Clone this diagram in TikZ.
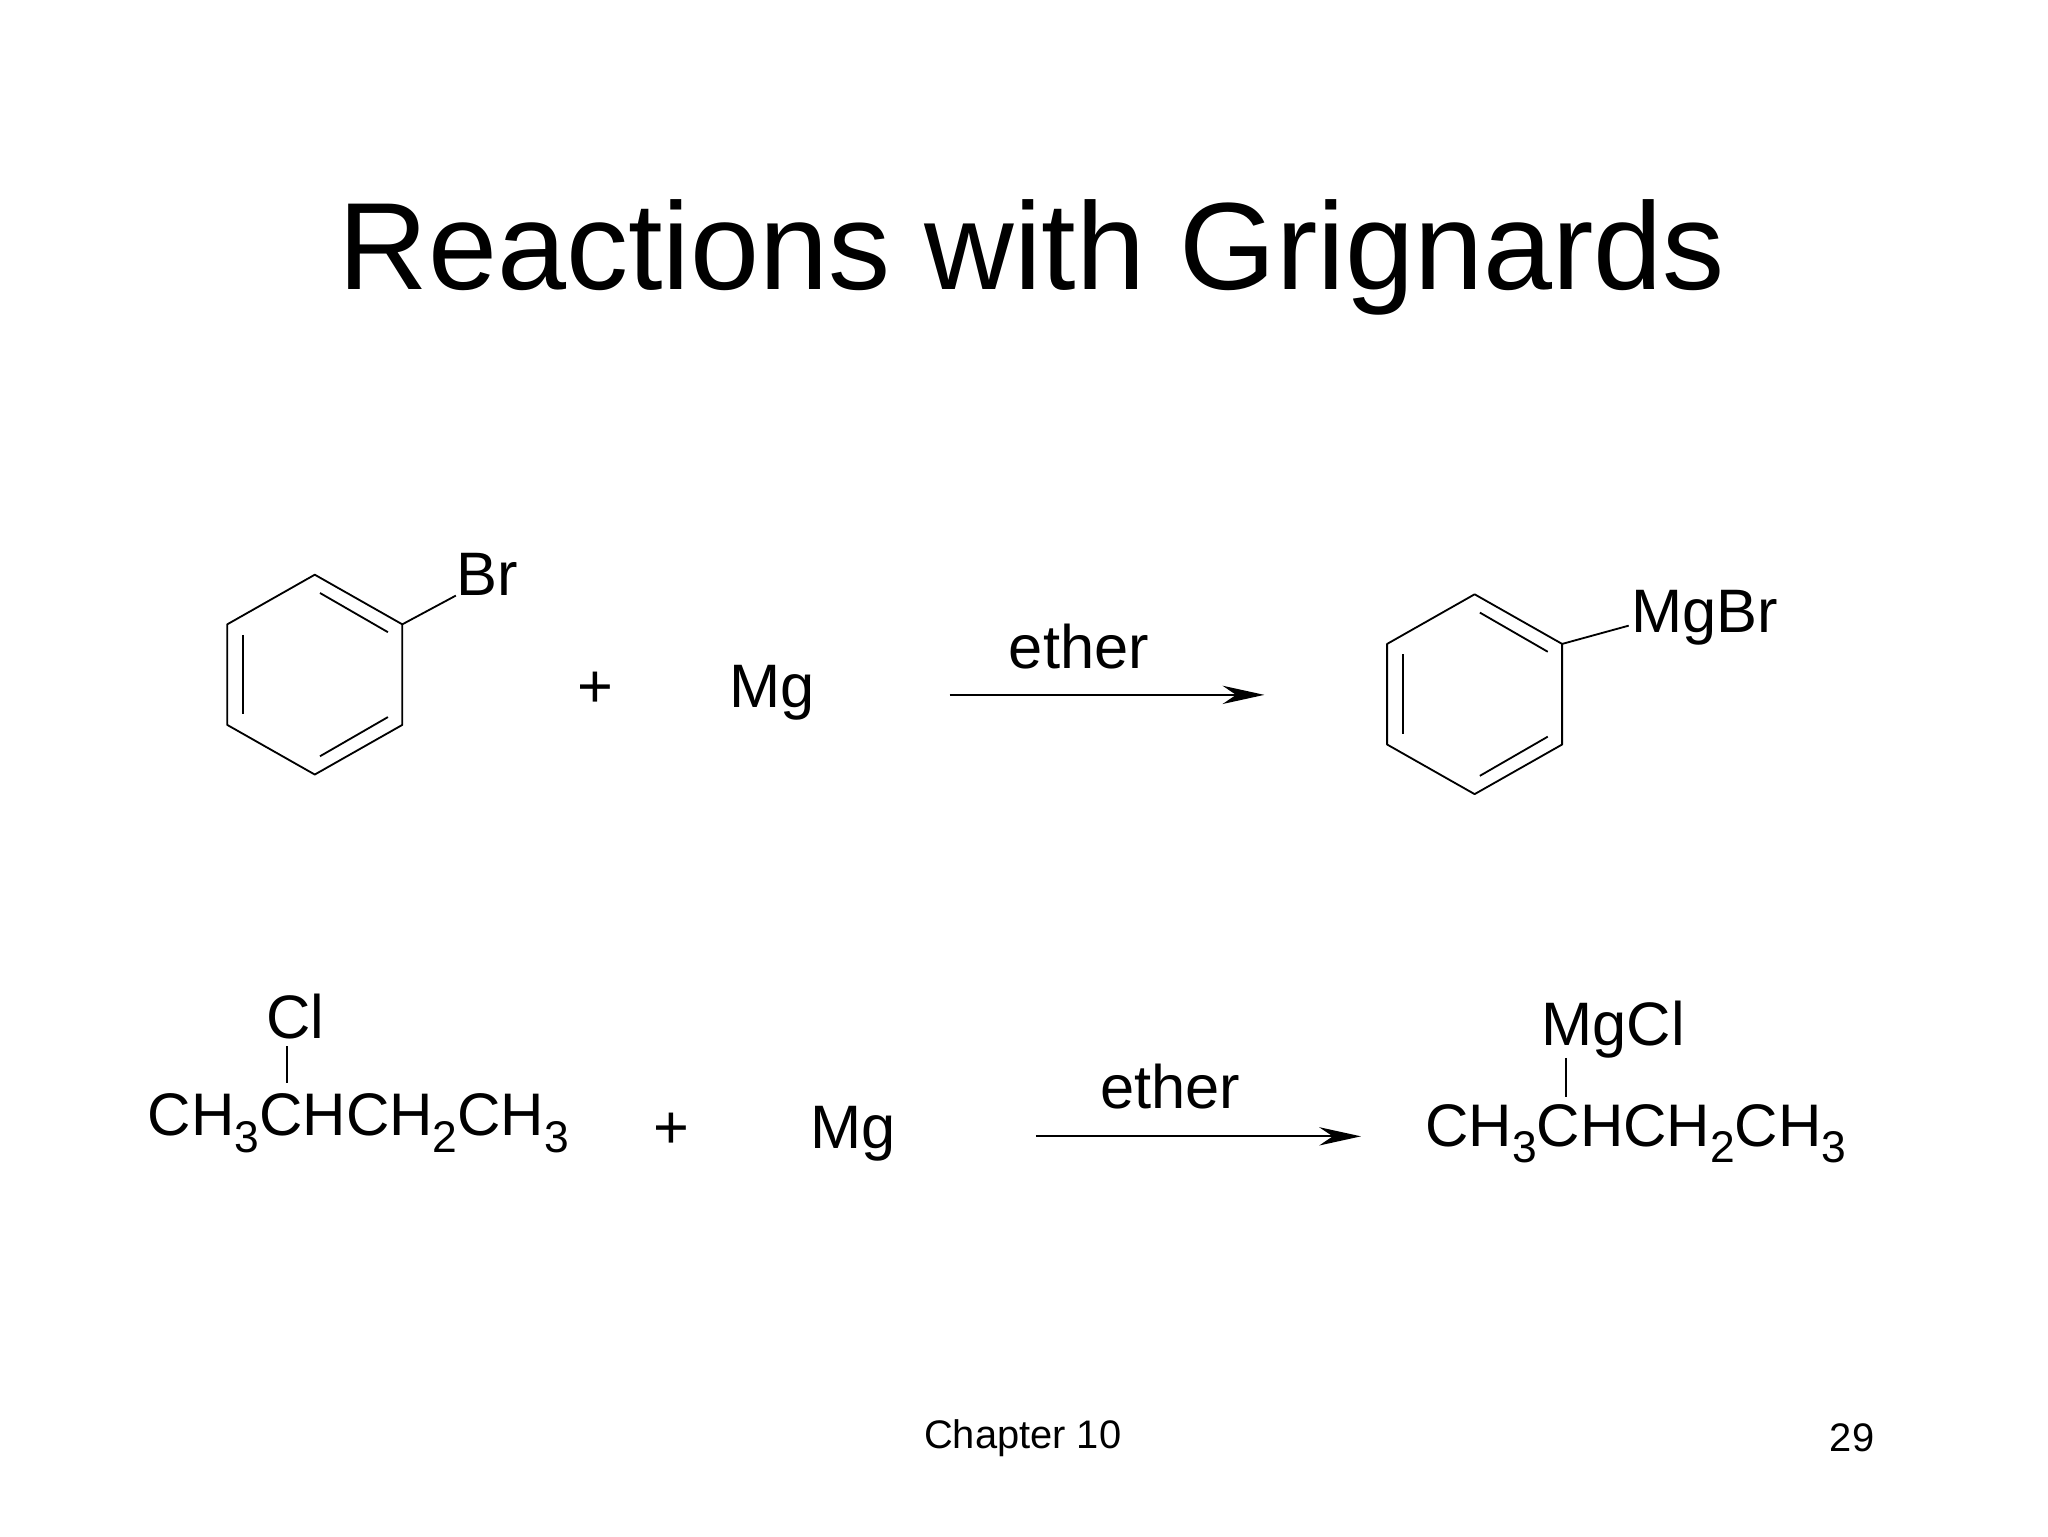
\documentclass[tikz,border=0pt]{standalone}
\usepackage{fontspec}
\setmainfont{Liberation Sans}
\usetikzlibrary{arrows.meta}
\newcommand{\chsub}[1]{\raisebox{-0.28em}{\fontsize{34}{36}\selectfont #1}}
\begin{document}
\begin{tikzpicture}[x=1pt,y=-1pt,
  bond/.style={line width=1.4pt},
  rxarrow/.style={line width=1.4pt,-{Stealth[length=32pt,width=14pt]}},
  chem/.style={font=\fontsize{46}{50}\selectfont,inner sep=0pt},
  small/.style={font=\fontsize{47}{50}\selectfont,inner sep=0pt}]
\useasboundingbox (0,0) rectangle (1568,1176);
\node[font=\fontsize{95}{100}\selectfont,inner sep=0] (title) at (790,197) {Reactions with Grignards};
% benzene 1
\coordinate (a1) at (241,440); \coordinate (a2) at (308,478); \coordinate (a3) at (308,555);
\coordinate (a4) at (241,593); \coordinate (a5) at (174,555); \coordinate (a6) at (174,478);
\draw[bond,line join=round] (a1)--(a2)--(a3)--(a4)--(a5)--(a6)--cycle;
\draw[bond] (245,454)--(297,484);
\draw[bond] (297,549)--(245,579);
\draw[bond] (186,486)--(186,547);
\node[small,anchor=west] (br) at (349,440) {Br};
\draw[bond] (a2)--(349,456);
\node[small] (p1) at (456,528) {+};
\node[small] (mg1) at (591,530) {Mg};
\coordinate (r1s) at (727,532); \coordinate (r1e) at (968,532);
\draw[rxarrow] (r1s)--(r1e);
\node[small] (e1) at (826,495) {ether};
% benzene 2
\coordinate (b1) at (1129,455); \coordinate (b2) at (1196,493); \coordinate (b3) at (1196,570);
\coordinate (b4) at (1129,608); \coordinate (b5) at (1062,570); \coordinate (b6) at (1062,493);
\draw[bond,line join=round] (b1)--(b2)--(b3)--(b4)--(b5)--(b6)--cycle;
\draw[bond] (1133,469)--(1185,499);
\draw[bond] (1185,564)--(1133,594);
\draw[bond] (1074,501)--(1074,562);
\node[small,anchor=west] (mgbr) at (1249,473) {MgBr};
\draw[bond] (b2)--(1247,479);
% row 2
\node[chem,anchor=west] (f1) at (113,860) {CH\chsub{3}CHCH\chsub{2}CH\chsub{3}};
\node[small] (cl) at (226,778) {Cl};
\draw[bond] (220,801)--(220,829);
\node[small] (p2) at (514,866) {+};
\node[small] (mg2) at (653,868) {Mg};
\coordinate (r2s) at (793,870); \coordinate (r2e) at (1042,870);
\draw[rxarrow] (r2s)--(r2e);
\node[small] (e2) at (896,832) {ether};
\node[chem,anchor=west] (f2) at (1091,868) {CH\chsub{3}CHCH\chsub{2}CH\chsub{3}};
\node[small] (mgcl) at (1235,788) {MgCl};
\draw[bond] (1199,810)--(1199,840);
% footer
\node[font=\fontsize{30.5}{33}\selectfont] (ch) at (783,1101) {Chapter 10};
\node[font=\fontsize{30.5}{33}\selectfont] (pg) at (1418,1101) {29};
\end{tikzpicture}
\end{document}
